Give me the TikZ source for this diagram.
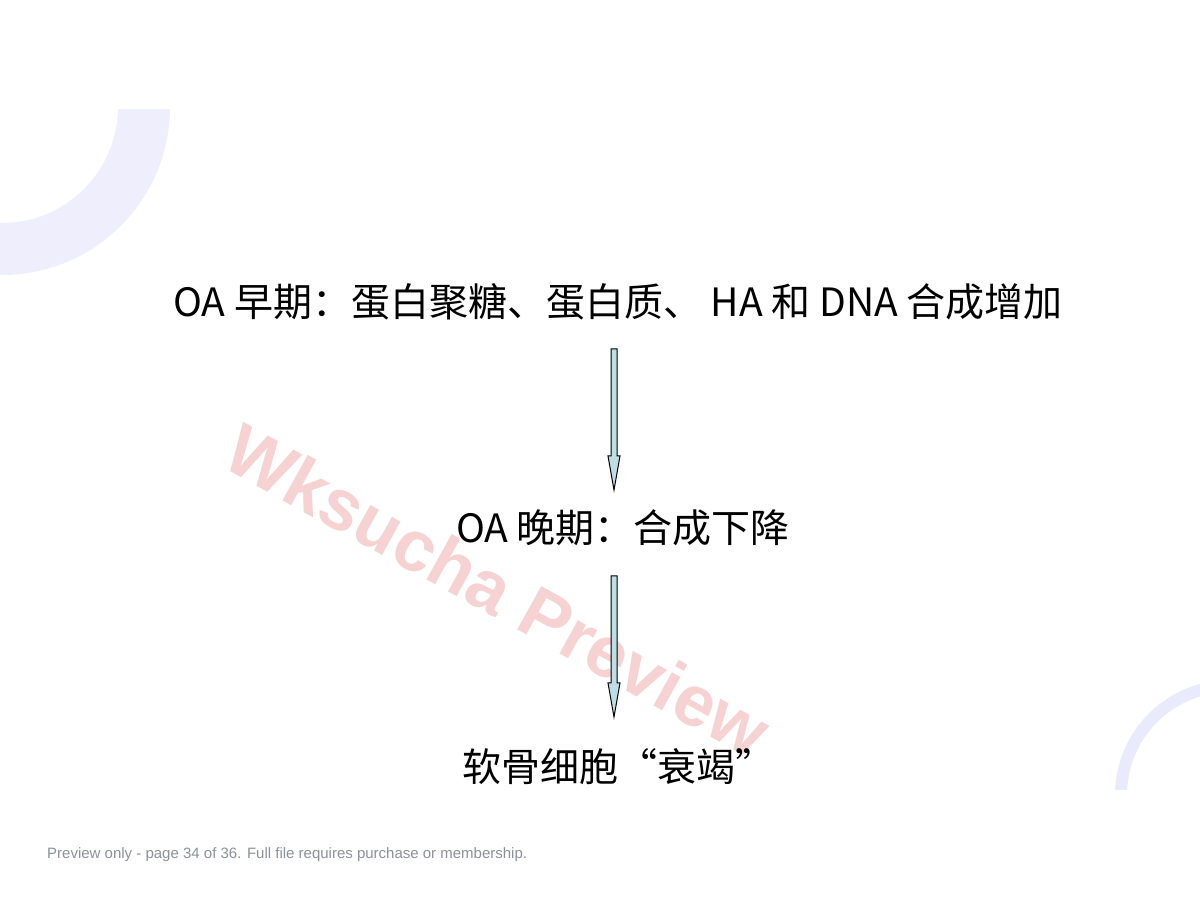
\documentclass[tikz,border=0pt]{standalone}
\usepackage{fontspec}
\setmainfont{Noto Sans CJK SC}
\newfontfamily\arialfam{Liberation Sans}
\usetikzlibrary{calc}
\definecolor{arcc}{RGB}{238,238,252}
\definecolor{arcd}{RGB}{233,234,252}
\definecolor{wmpink}{RGB}{247,210,210}
\definecolor{footgray}{RGB}{140,145,155}
\definecolor{arrfill}{RGB}{190,222,230}
\tikzset{
  lbl/.style={inner sep=0pt, font=\fontsize{39}{44}\selectfont, text=black},
  barrow/.style={draw=black, line width=1pt, fill=arrfill, line join=miter},
  foot/.style={inner sep=0pt, anchor=west, font=\arialfam\fontsize{15}{18}\selectfont, text=footgray},
  wmark/.style={inner sep=0pt, rotate=-29, font=\arialfam\bfseries\fontsize{72}{80}\selectfont, text=wmpink}
}
\newcommand\blockarr[2]{%
  \draw[barrow] ($(#1)+(-3,0)$) -- ($(#2)+(-3,34)$) -- ($(#2)+(-6,34)$) -- (#2)
    -- ($(#2)+(6,34)$) -- ($(#2)+(3,34)$) -- ($(#1)+(3,0)$) -- cycle;}
\begin{document}
\begin{tikzpicture}[x=1pt,y=1pt]
\useasboundingbox (0,0) rectangle (1200,900);
\fill[white] (0,0) rectangle (1200,900);
% decorative arcs
\begin{scope}
  \clip (0,0) rectangle (1200,790);
  \fill[arcc, even odd rule] (2,793) circle (168) (2,793) circle (116);
\end{scope}
\begin{scope}
  \clip (0,110) rectangle (1200,900);
  \fill[arcd, even odd rule] (1230,105) circle (115) (1230,105) circle (103);
\end{scope}
% watermark
\node[wmark] (wm) at (498,310) {Wksucha Preview};
% texts
\node[lbl] (t1) at (618,598) {OA 早期：蛋白聚糖、蛋白质、 HA 和 DNA 合成增加};
\node[lbl] (t2) at (623,372) {OA 晚期：合成下降};
\node[lbl] (t3) at (618,133) {软骨细胞“衰竭”};
% arrows
\coordinate (a1s) at (614,551);
\coordinate (a1e) at (614,410);
\coordinate (a2s) at (614,324);
\coordinate (a2e) at (614,183);
\blockarr{a1s}{a1e}
\blockarr{a2s}{a2e}
% footer
\node[foot] (ft) at (47,45) {Preview only - page 34 of 36. Full file requires purchase or membership.};
\end{tikzpicture}
\end{document}
